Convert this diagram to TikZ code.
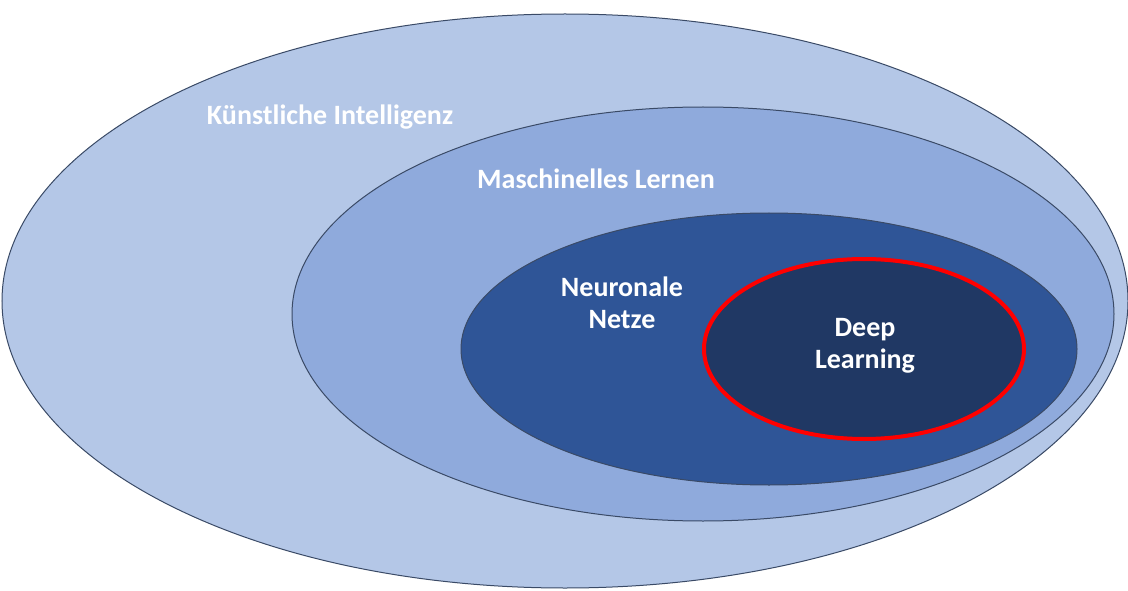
\documentclass[tikz,border=0pt]{standalone}
\usepackage{fontspec}
\setmainfont{Carlito}
\definecolor{cKI}{HTML}{B4C7E7}
\definecolor{cML}{HTML}{8FAADC}
\definecolor{cNN}{HTML}{2F5597}
\definecolor{cDL}{HTML}{203864}
\definecolor{edge}{HTML}{3A4A66}
\begin{document}
\begin{tikzpicture}[x=1pt,y=-1pt,
  lbl/.style={text=white,font=\bfseries\fontsize{28}{32}\selectfont,align=center}]
\useasboundingbox (0,0) rectangle (1128,591);
\fill[white] (0,0) rectangle (1128,591);
\draw[edge,fill=cKI,line width=1pt] (565,301) ellipse [x radius=563,y radius=287];
\draw[edge,fill=cML,line width=1pt] (703,314) ellipse [x radius=411,y radius=207];
\draw[edge,fill=cNN,line width=1pt] (769,349) ellipse [x radius=308,y radius=136];
\draw[red,fill=cDL,line width=4pt] (864,349) ellipse [x radius=160,y radius=90];
\node[lbl] (ki) at (330,117) {Künstliche Intelligenz};
\node[lbl] (ml) at (596,179) {Maschinelles Lernen};
\node[lbl] (nn) at (622,303) {Neuronale\\Netze};
\node[lbl] (dl) at (865,346) {Deep\\Learning};
\end{tikzpicture}
\end{document}
